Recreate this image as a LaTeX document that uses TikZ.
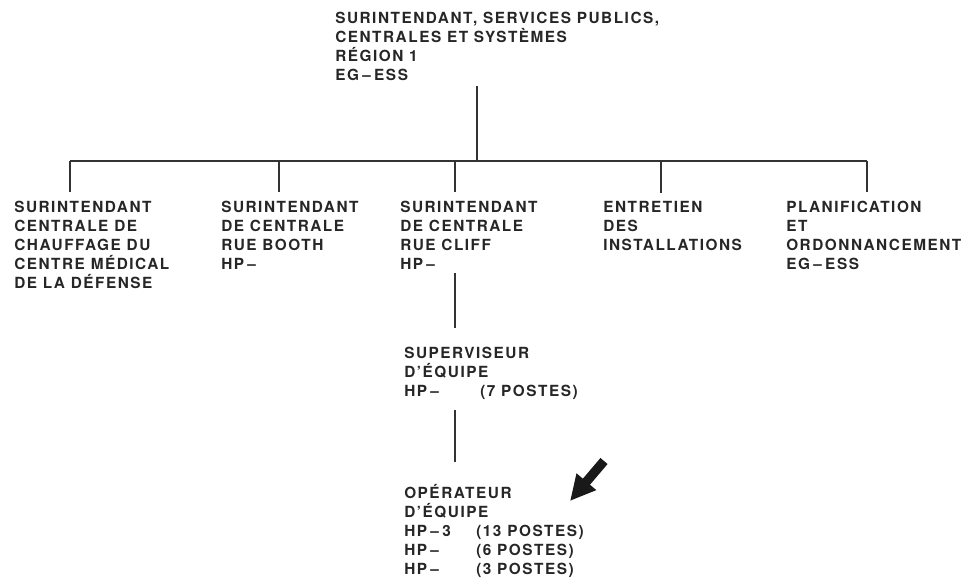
\documentclass[tikz,border=0pt]{standalone}
\usepackage{fontspec}
\setmainfont{TeX Gyre Heros}[LetterSpace=10]
\usetikzlibrary{arrows.meta}

\newcommand{\tiret}{\hspace{0.22em}--\hspace{0.22em}}
\tikzset{
  poste/.style={anchor=base west, align=left, inner sep=0pt, text=black!85,
    font=\bfseries\fontsize{11.5}{14.25}\selectfont},
  trait/.style={black!80, line width=1.3pt}
}

\begin{document}
\begin{tikzpicture}[x=0.75pt,y=-0.75pt]
  \useasboundingbox (0,0) rectangle (966,581);
  % chef (base = derniere ligne)
  \node[poste] (chef) at (335,81) {SURINTENDANT, SERVICES PUBLICS,\\CENTRALES ET SYSTÈMES\\RÉGION 1\\EG\tiret ESS};
  % deuxieme niveau
  \node[poste] (chauffage) at (14,288) {SURINTENDANT\\CENTRALE DE\\CHAUFFAGE DU\\CENTRE MÉDICAL\\DE LA DÉFENSE};
  \node[poste] (booth) at (221,269) {SURINTENDANT\\DE CENTRALE\\RUE BOOTH\\HP\tiret};
  \node[poste] (cliff) at (400,269) {SURINTENDANT\\DE CENTRALE\\RUE CLIFF\\HP\tiret};
  \node[poste] (entretien) at (603,250) {ENTRETIEN\\DES\\INSTALLATIONS};
  \node[poste] (planif) at (786,269) {PLANIFICATION\\ET\\ORDONNANCEMENT\\EG\tiret ESS};
  % equipes
  \node[poste] (superviseur) at (404,396) {SUPERVISEUR\\D’ÉQUIPE\\\makebox[57pt][l]{HP\tiret}(7 POSTES)};
  \node[poste] (operateur) at (404,574) {OPÉRATEUR\\D’ÉQUIPE\\\makebox[54pt][l]{HP\tiret 3}(13 POSTES)\\\makebox[54pt][l]{HP\tiret}(6 POSTES)\\\makebox[54pt][l]{HP\tiret}(3 POSTES)};

  \coordinate (jn) at (477,161);
  \coordinate (p1) at (70,161);
  \coordinate (p2) at (279,161);
  \coordinate (p3) at (455,161);
  \coordinate (p4) at (661,161);
  \coordinate (p5) at (867,161);

  \draw[trait, shorten <=3.5pt] (chef.south -| jn) -- (jn);
  \draw[trait] (p1) -- (p5);
  \foreach \p/\n in {p1/chauffage, p2/booth, p3/cliff, p4/entretien, p5/planif}
    \draw[trait, shorten >=6pt] (\p) -- (\p |- \n.north);
  \draw[trait, shorten <=3pt, shorten >=14pt] (p3 |- cliff.south) -- (p3 |- superviseur.north);
  \draw[trait, shorten <=8pt, shorten >=16pt] (p3 |- superviseur.south) -- (p3 |- operateur.north);

  % fleche
  \coordinate (queue) at (604,461);
  \coordinate (pointe) at (570,501);
  \draw[black!90, line width=7pt, -{Triangle[width=18pt,length=19pt]}] (queue) -- (pointe);
\end{tikzpicture}
\end{document}
